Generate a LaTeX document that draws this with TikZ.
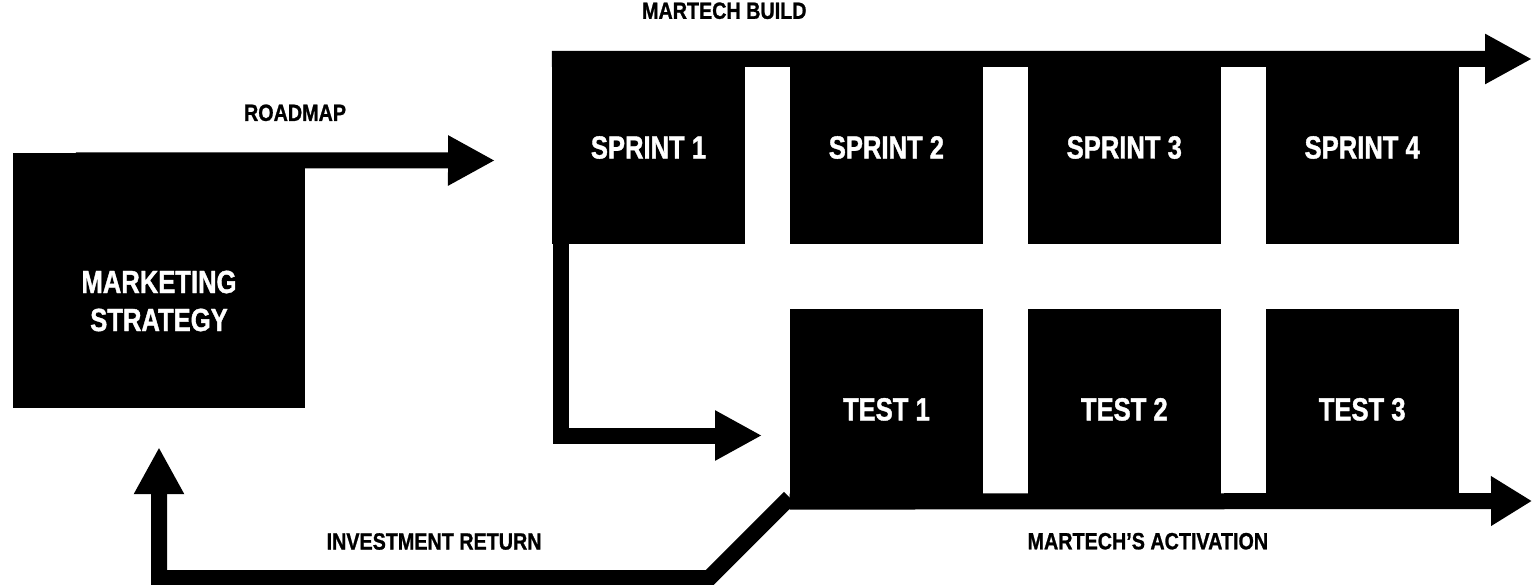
\documentclass[tikz,border=0pt]{standalone}
\usepackage{fontspec}
\usetikzlibrary{positioning,arrows.meta}
\newfontfamily\boxfont[FakeStretch=0.8,FakeBold=1.2]{Liberation Sans}
\newfontfamily\tagfont[FakeStretch=0.84,FakeBold=1]{Liberation Sans}

\tikzstyle{blocktext} = [text=white, align=center, font=\boxfont\bfseries\fontsize{32}{38}\selectfont]
\tikzstyle{block} = [blocktext, fill=black, inner sep=0pt, minimum width=193pt, minimum height=193pt]
\tikzstyle{testblock} = [block, minimum height=200pt]
\tikzstyle{tag} = [inner sep=0pt, text height=17pt, text depth=0pt, text=black, font=\tagfont\bfseries\fontsize{23.5}{28}\selectfont]
\tikzstyle{flow} = [line width=16pt, -{Triangle[length=47pt,width=47pt]}]

\begin{document}
\begin{tikzpicture}[x=1pt, y=-1pt]
\useasboundingbox (0,0) rectangle (1532,585);

\node[block, minimum width=292pt, minimum height=255pt,
    label={[blocktext, yshift=-20.5pt]center:{MARKETING\\STRATEGY}}]
    (strategy) at (159,280.5) {};

\node[block] (s1) at (648.5,147.5) {SPRINT 1};
\node[block, right=44.5pt of s1] (s2) {SPRINT 2};
\node[block, right=44.5pt of s2] (s3) {SPRINT 3};
\node[block, right=44.5pt of s3] (s4) {SPRINT 4};

\node[testblock, below=65pt of s2] (t1) {TEST 1};
\node[testblock, right=44.5pt of t1] (t2) {TEST 2};
\node[testblock, right=44.5pt of t2] (t3) {TEST 3};

\coordinate (roadmapend) at (495,160.5);
\coordinate (buildend) at (1532,59);
\coordinate (testin) at (762,435.5);
\coordinate (activationend) at (1532,501);

\draw[flow] ([xshift=63pt,yshift=-7.5pt]strategy.north west)
    -- node[tag, pos=.523, above=31.5pt] (roadmaplbl) {ROADMAP} (roadmapend);
\draw[flow] ([yshift=-8pt]s1.north west)
    -- node[tag, pos=.176, above=32pt] (buildlbl) {MARTECH BUILD} (buildend);
\draw[flow] ([xshift=9pt]s1.south west) |- (testin);
\draw[flow, -{Triangle[length=41pt,width=47pt]}] ([yshift=8pt]t1.south west)
    -- node[tag, pos=.4825, below=23pt] (activationlbl) {MARTECH’S ACTIVATION} (activationend);
\draw[flow] ([yshift=12pt]t1.south west) -- ++(-80.5,80.5)
    -| node[tag, pos=.25, above=20.5pt] (returnlbl) {INVESTMENT RETURN} ([yshift=-39pt]strategy.south);
\end{tikzpicture}
\end{document}
